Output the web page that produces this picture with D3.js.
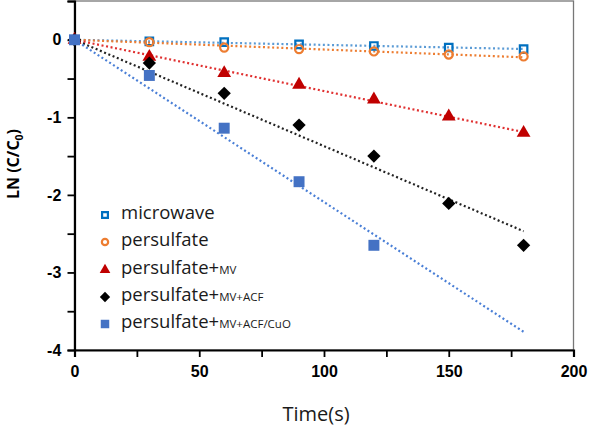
<!DOCTYPE html>
<html>
<head>
<meta charset="utf-8">
<script src="https://cdn.jsdelivr.net/npm/d3@7"></script>
<style>
  body { margin: 0; background: #fff; }
  svg { display: block; font-family: "Open Sans", "Noto Sans", sans-serif; }
</style>
</head>
<body>
<script>
// 数据：时间（秒）与各体系的 ln(C/C0)
const times = [0, 30, 60, 90, 120, 150, 180];
const microwave = [0, -0.02, -0.03, -0.06, -0.08, -0.10, -0.12];
const persulfate = [0, -0.03, -0.10, -0.12, -0.15, -0.19, -0.215];
const persulfateMV = [0, -0.22, -0.43, -0.58, -0.77, -0.99, -1.2];
const persulfateMVACF = [0, -0.30, -0.69, -1.10, -1.50, -2.11, -2.65];
const cuoTimes = [0, 30, 60, 90, 120];
const persulfateCuO = [0, -0.46, -1.14, -1.83, -2.65];

const xTicks = [0, 50, 100, 150, 200];
const yTicks = [0, -1, -2, -3, -4];

const width = 590, height = 428;
const margin = { left: 74.5, right: 16.5, top: 1, bottom: 78 };

const series = [
  { name: "microwave", sub: "", t: times, v: microwave, shape: "openSquare", color: "#0070C0", line: "#5B9BD5" },
  { name: "persulfate", sub: "", t: times, v: persulfate, shape: "circle", color: "#ED7D31", line: "#ED7D31" },
  { name: "persulfate", sub: "MV", t: times, v: persulfateMV, shape: "triangle", color: "#C00000", line: "#E03030" },
  { name: "persulfate", sub: "MV+ACF", t: times, v: persulfateMVACF, shape: "diamond", color: "#000000", line: "#222" },
  { name: "persulfate", sub: "MV+ACF/CuO", t: cuoTimes, v: persulfateCuO, shape: "square", color: "#4472C4", line: "#4A7FD6" }
];

const x = d3.scaleLinear().domain([0, 200]).range([margin.left, width - margin.right]);
const y = d3.scaleLinear().domain([-4, 0.5]).range([height - margin.bottom, margin.top]);

const svg = d3.select("body").append("svg")
  .attr("width", width)
  .attr("height", height);

// 绘图区边框（上、右为浅灰细线）
svg.append("rect")
  .attr("x", x(0)).attr("y", y(0.5))
  .attr("width", x(200) - x(0)).attr("height", y(-4) - y(0.5))
  .attr("fill", "none").attr("stroke", "#777").attr("stroke-width", 1.3);

// 趋势线：过原点的线性拟合
const gLines = svg.append("g").attr("fill", "none");
series.forEach(s => {
  let num = 0, den = 0;
  s.t.forEach((t, i) => { num += t * s.v[i]; den += t * t; });
  const k = num / den;
  const tEnd = 180;
  gLines.append("line")
    .attr("x1", x(0)).attr("y1", y(0))
    .attr("x2", x(tEnd)).attr("y2", y(k * tEnd))
    .attr("stroke", s.line)
    .attr("stroke-width", 2.2)
    .attr("stroke-dasharray", "2,2.6");
});

// 坐标轴
const xAxis = svg.append("g")
  .attr("transform", `translate(0,${y(-4)})`)
  .call(d3.axisBottom(x).tickValues(d3.range(0, 201, 25)).tickSize(7).tickFormat(d => xTicks.includes(d) ? d : ""));
const yAxis = svg.append("g")
  .attr("transform", `translate(${x(0)},0)`)
  .call(d3.axisLeft(y).tickValues(d3.range(-4, 0.51, 0.5)).tickSize(7).tickFormat(d => yTicks.includes(d) ? d : ""));

[xAxis, yAxis].forEach(a => {
  a.select(".domain").attr("stroke", "#000").attr("stroke-width", 2.2);
  a.selectAll(".tick line").attr("stroke", "#000").attr("stroke-width", 1.8);
  a.selectAll(".tick text")
    .attr("fill", "#000")
    .style("font-size", "16px")
    .style("font-weight", "bold");
});
xAxis.selectAll(".tick text").attr("dy", "1.05em");
yAxis.selectAll(".tick text").attr("dx", "-0.2em");

// 标记
const symbols = {
  openSquare: d3.symbolSquare, circle: d3.symbolCircle, triangle: d3.symbolTriangle,
  diamond: d3.symbolSquare, square: d3.symbolSquare
};
const sizes = { openSquare: 56, circle: 52, triangle: 82, diamond: 88, square: 120 };

function drawMarker(g, s, cx, cy, scale = 1) {
  const hollow = s.shape === "openSquare" || s.shape === "circle";
  let tf = `translate(${cx},${cy})`;
  if (s.shape === "diamond") tf += " rotate(45)";
  g.append("path")
    .attr("d", d3.symbol().type(symbols[s.shape]).size(sizes[s.shape] * scale)())
    .attr("transform", tf)
    .attr("fill", hollow ? "none" : s.color)
    .attr("stroke", hollow ? s.color : "none")
    .attr("stroke-width", 2.2);
}

const gMarks = svg.append("g");
series.forEach(s => {
  s.t.forEach((t, i) => drawMarker(gMarks, s, x(t), y(s.v[i]), 1));
});

// 图例
const legend = svg.append("g");
const legendY = [213, 240, 268, 295, 322];
series.forEach((s, i) => {
  drawMarker(legend, s, 105, legendY[i] + 2, 0.6);
  const txt = legend.append("text")
    .attr("x", 121).attr("y", legendY[i])
    .attr("dy", "0.35em")
    .attr("fill", "#1a1a1a")
    .style("font-size", "18.5px");
  txt.append("tspan").text(s.name + (s.sub ? "+" : ""));
  if (s.sub) txt.append("tspan").style("font-size", "11.5px").text(s.sub);
});

// 轴标题
svg.append("text")
  .attr("x", 316).attr("y", 421)
  .attr("text-anchor", "middle")
  .style("font-size", "20px")
  .attr("fill", "#1a1a1a")
  .text("Time(s)");

const yl = svg.append("text")
  .attr("transform", `translate(19,164) rotate(-90)`)
  .attr("text-anchor", "middle")
  .style("font-size", "16px")
  .style("font-weight", "bold")
  .attr("fill", "#000");
yl.append("tspan").text("LN (C/C");
yl.append("tspan").attr("dy", 4).style("font-size", "10.5px").text("0");
yl.append("tspan").attr("dy", -4).text(")");
</script>
</body>
</html>
